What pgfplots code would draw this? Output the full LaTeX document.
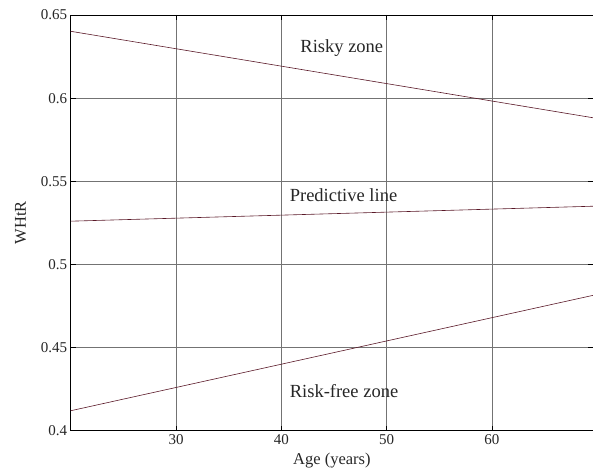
\documentclass[border=0pt]{standalone}
\usepackage{fontspec}
\setmainfont{Liberation Serif}
\usepackage{pgfplots}
\pgfplotsset{compat=1.18}
\definecolor{linecol}{RGB}{90,25,40}
\definecolor{txt}{RGB}{38,38,38}
\begin{document}
\begin{tikzpicture}
\begin{axis}[
  name=ax,
  scale only axis,
  width=522.3pt, height=415.7pt,
  xmin=20, xmax=69.6, ymin=0.4, ymax=0.65,
  xtick={30,40,50,60},
  ytick={0.4,0.45,0.5,0.55,0.6,0.65},
  yticklabels={0.4,0.45,0.5,0.55,0.6,0.65},
  grid=major,
  grid style={black!55, line width=0.45pt},
  axis line style={black, line width=0.9pt},
  tick style={black, line width=0.5pt},
  major tick length=5pt,
  tick align=inside,
  tick label style={font=\fontsize{15}{17}\selectfont, text=txt},
  /pgf/number format/assume math mode=true,
  xlabel={Age (years)},
  ylabel={WHtR},
  label style={font=\fontsize{16.5}{19}\selectfont, text=txt},
  xlabel style={at={(axis description cs:0.5,-0.0537)}, anchor=north, inner sep=0pt},
  ylabel style={at={(axis description cs:-0.0856,0.5)}, anchor=base, inner sep=0pt},
]
\addplot[linecol, line width=0.6pt] coordinates {(20,0.6402) (69.6,0.5882)};
\addplot[linecol, line width=0.6pt] coordinates {(20,0.5260) (69.6,0.5350)};
\addplot[linecol, line width=0.6pt] coordinates {(20,0.4120) (69.6,0.4814)};
\node[text=txt, font=\fontsize{18.5}{21}\selectfont, anchor=base west, inner sep=0pt] at (axis cs:41.8,0.6273) {Risky zone};
\node[text=txt, font=\fontsize{18.5}{21}\selectfont, anchor=base west, inner sep=0pt] at (axis cs:40.79,0.5381) {Predictive line};
\node[text=txt, font=\fontsize{18.5}{21}\selectfont, anchor=base west, inner sep=0pt] at (axis cs:40.79,0.4198) {Risk-free zone};
\end{axis}
\pgfresetboundingbox
\path[use as bounding box] ([xshift=-70.7pt,yshift=-42.3pt]ax.south west) rectangle ([yshift=15pt]ax.north east);
\end{tikzpicture}
\end{document}
